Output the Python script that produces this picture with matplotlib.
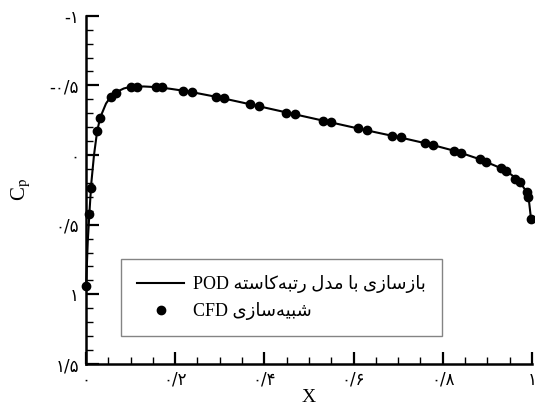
import numpy as np
import matplotlib
matplotlib.use("Agg")
import matplotlib.pyplot as plt
from matplotlib.ticker import MultipleLocator, FixedLocator

# CFD points
cfd_x = [0.0, 0.007, 0.011, 0.025, 0.031, 0.056, 0.067, 0.101, 0.114, 0.156, 0.171,
         0.218, 0.238, 0.291, 0.310, 0.368, 0.388, 0.448, 0.469, 0.531, 0.549,
         0.610, 0.631, 0.687, 0.706, 0.760, 0.779, 0.826, 0.842, 0.883, 0.896,
         0.930, 0.941, 0.963, 0.973, 0.988, 0.992, 0.998]
cfd_cp = [0.94, 0.423, 0.235, -0.174, -0.263, -0.418, -0.447, -0.490, -0.490, -0.486, -0.486,
          -0.459, -0.454, -0.418, -0.407, -0.364, -0.352, -0.303, -0.292, -0.244, -0.235,
          -0.192, -0.179, -0.138, -0.127, -0.084, -0.072, -0.029, -0.016, 0.031, 0.048,
          0.095, 0.113, 0.174, 0.192, 0.263, 0.303, 0.461]

# POD reconstruction line
pod_x = [0.0, 0.004, 0.008, 0.012, 0.018, 0.025, 0.032, 0.045, 0.056, 0.070, 0.085,
         0.101, 0.130, 0.160, 0.190, 0.230, 0.290, 0.350, 0.410, 0.470, 0.530,
         0.590, 0.650, 0.710, 0.770, 0.830, 0.880, 0.920, 0.950, 0.970, 0.985,
         0.993, 0.998]
pod_cp = [0.96, 0.62, 0.40, 0.20, 0.0, -0.17, -0.27, -0.37, -0.42, -0.455, -0.478,
          -0.49, -0.492, -0.487, -0.475, -0.456, -0.419, -0.377, -0.334, -0.291, -0.248,
          -0.205, -0.163, -0.122, -0.078, -0.027, 0.027, 0.080, 0.132, 0.182, 0.250,
          0.320, 0.461]

x_ticks = [0.0, 0.2, 0.4, 0.6, 0.8, 1.0]
x_ticklabels = ["\u06f0", "\u06f0/\u06f2", "\u06f0/\u06f4", "\u06f0/\u06f6", "\u06f0/\u06f8", "\u06f1"]
y_ticks = [-1.0, -0.5, 0.0, 0.5, 1.0, 1.5]
y_ticklabels = ["-\u06f1", "-\u06f0/\u06f5", "\u06f0", "\u06f0/\u06f5", "\u06f1", "\u06f1/\u06f5"]

# Persian legend text, shaped by hand (presentation forms, visual order)
w_bazsazi = "\uFEEF\uFEAF\uFE8E\uFEB3\uFEAF\uFE8E\uFE91"
w_ba = "\uFE8E\uFE91"
w_model = "\uFEDD\uFEAA\uFEE3"
w_rotbe = "\uFEEA\uFE98\uFEB3\uFE8E\uFEDB\uFEEA\uFE92\uFE97\uFEAD"
w_shabih = "\uFEEF\uFEAF\uFE8E\uFEB3\uFEEA\uFEF4\uFE92\uFEB7"
label_pod = "POD " + w_rotbe + " " + w_model + " " + w_ba + " " + w_bazsazi
label_cfd = "CFD " + w_shabih

fonts = ["Liberation Serif", "DejaVu Sans"]
plt.rcParams["font.family"] = fonts
plt.rcParams["mathtext.fontset"] = "stix"

fig = plt.figure(figsize=(5.35, 4.09), dpi=100)
ax = fig.add_axes([0.1607, 0.110, 0.8336, 0.8516])

ax.plot(pod_x, pod_cp, color="black", lw=1.5, label=label_pod, clip_on=False, zorder=2)
ax.plot(cfd_x, cfd_cp, "o", color="black", ms=6, label=label_cfd, clip_on=False, zorder=3)

ax.set_xlim(0, 1)
ax.set_ylim(1.5, -1)

ax.xaxis.set_major_locator(FixedLocator(x_ticks))
ax.set_xticklabels(x_ticklabels, fontsize=12, family=["DejaVu Sans"])
ax.xaxis.set_minor_locator(MultipleLocator(0.05))
ax.yaxis.set_major_locator(FixedLocator(y_ticks))
ax.set_yticklabels(y_ticklabels, fontsize=12, family=["DejaVu Sans"])
ax.yaxis.set_minor_locator(MultipleLocator(0.1))

ax.tick_params(which="major", direction="in", length=9, width=1.6, pad=5)
ax.tick_params(which="minor", direction="in", length=5, width=1.0)
ax.spines["top"].set_visible(False)
ax.spines["right"].set_visible(False)
for s in ["left", "bottom"]:
    ax.spines[s].set_linewidth(1.8)

ax.set_xlabel("X", fontsize=14, labelpad=0)
ax.set_ylabel(r"C$_\mathrm{p}$", fontsize=15, labelpad=12)

leg = ax.legend(loc="upper left", bbox_to_anchor=(0.226, 0.367),
                bbox_transform=fig.transFigure, borderaxespad=0, fontsize=13,
                handlelength=2.6, handletextpad=0.5, frameon=True, fancybox=False,
                edgecolor="#666666", borderpad=0.9, labelspacing=0.5)
leg.get_frame().set_linewidth(1.0)

fig.savefig("out.png", dpi=100)
